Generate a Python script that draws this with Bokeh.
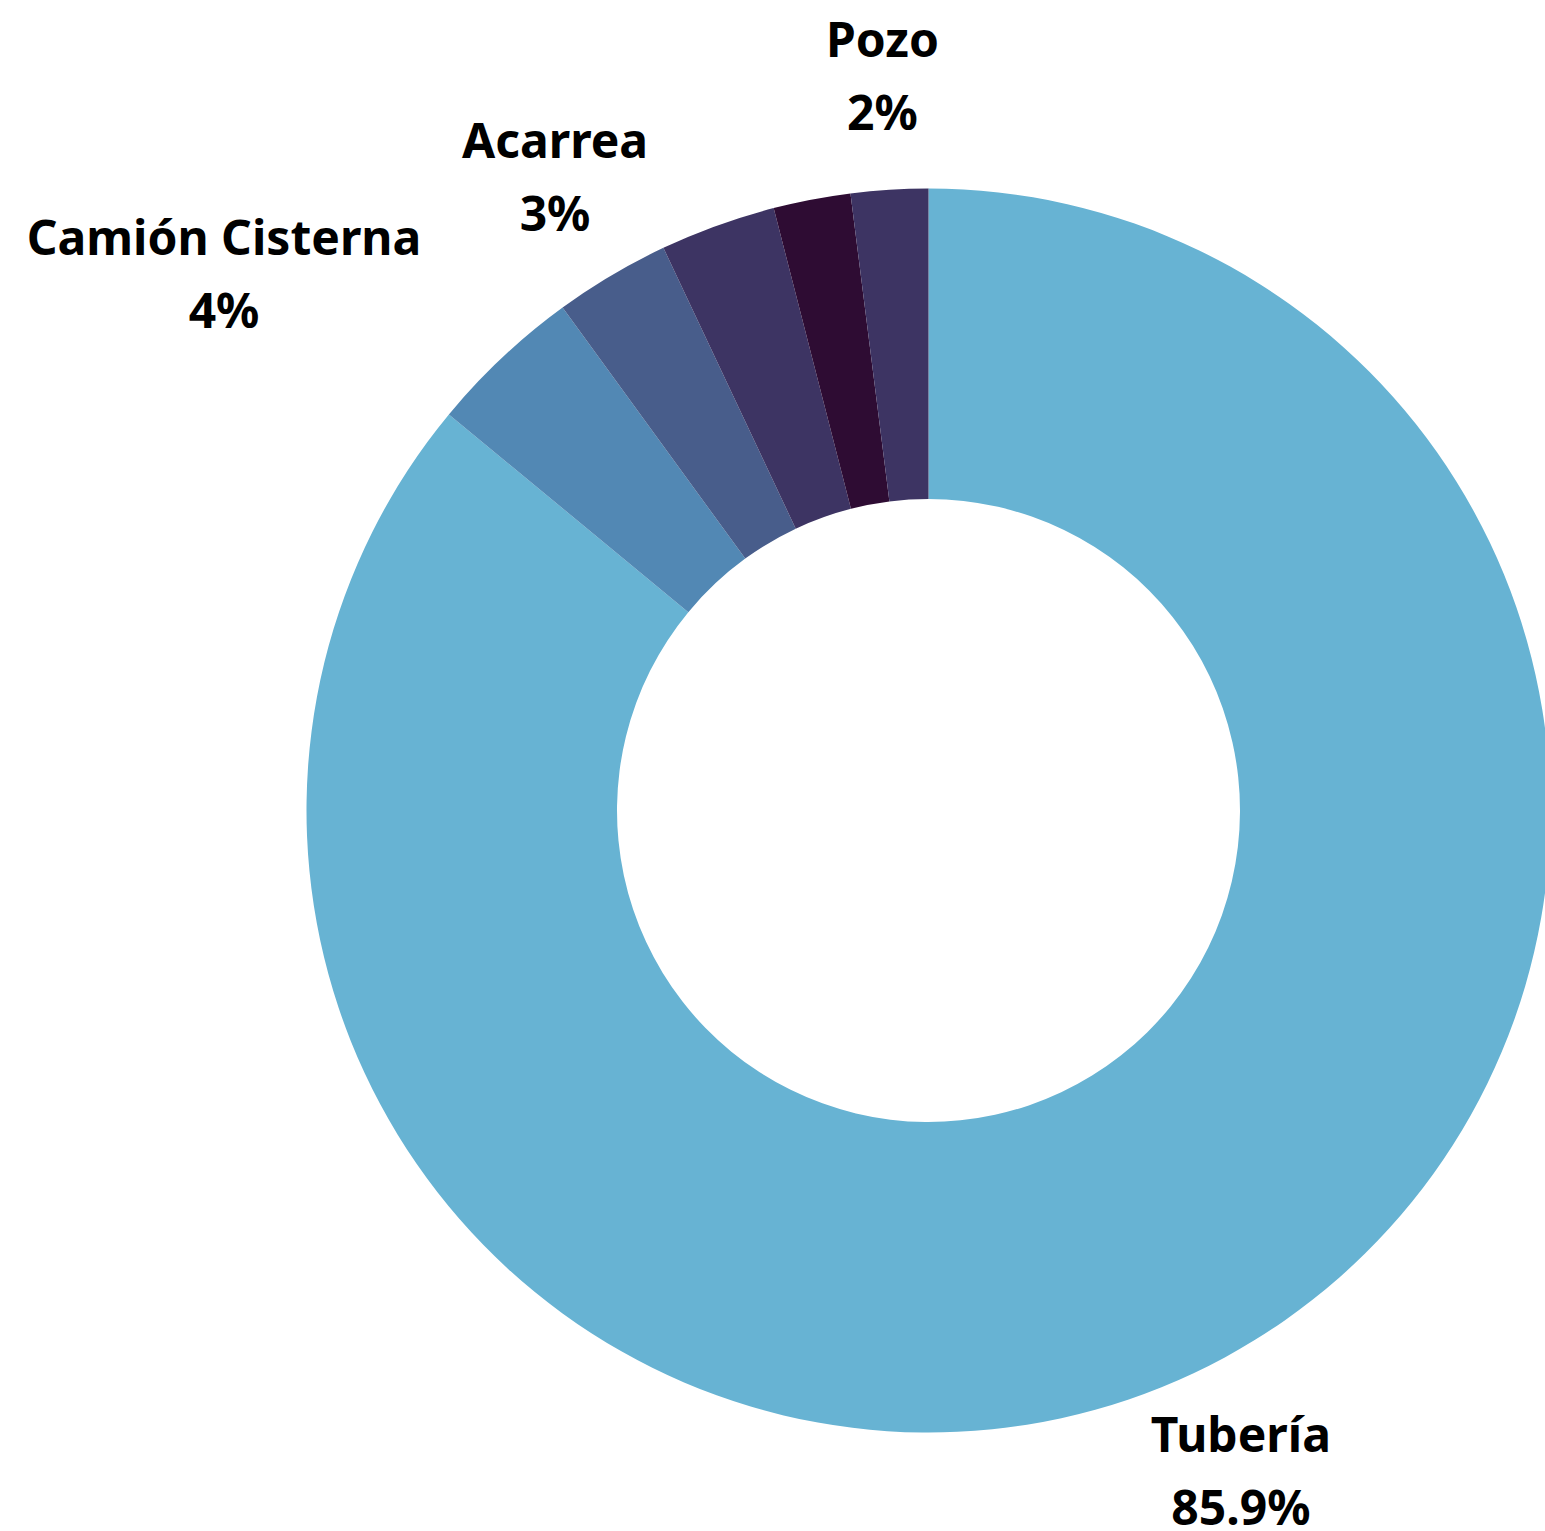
import numpy as np
from bokeh.plotting import figure
from bokeh.models import Range1d, ColumnDataSource
from bokeh.core.properties import value
from bokeh.embed import file_html
from bokeh.resources import INLINE

# Data (clockwise from 12 o'clock)
categories = ["Tubería", "Camión Cisterna", "Acarrea", "", "", "Pozo"]
shares = [85.9, 4, 3, 3, 2, 2]
share_labels = ["85.9%", "4%", "3%", "", "", "2%"]
colors = ["#67b3d3", "#5288b4", "#485d8b", "#3d3463", "#2e0c33", "#3d3463"]

R_OUT, R_IN, R_LAB = 622, 311.5, 733
FONT = "Noto Sans"
FS = 48

vals = np.array(shares, dtype=float)
frac = vals / vals.sum()
f1 = np.cumsum(frac)
f0 = f1 - frac
ang = lambda f: np.pi / 2 - 2 * np.pi * f

src = ColumnDataSource(dict(start=ang(f1), end=ang(f0), color=colors))

p = figure(width=1545, height=1531, output_backend="svg", toolbar_location=None,
           x_range=Range1d(-928, 617), y_range=Range1d(-721, 810),
           min_border=0, outline_line_color=None)
p.axis.visible = False
p.grid.visible = False
p.background_fill_color = "white"
p.border_fill_color = "white"

p.annular_wedge(x=0, y=0, inner_radius=R_IN, outer_radius=R_OUT,
                start_angle="start", end_angle="end", fill_color="color",
                line_color=None, source=src)

# Labels
lx, ly, names, pcts, xo = [], [], [], [], []
mid = ang((f0 + f1) / 2)
for i, name in enumerate(categories):
    if not name:
        continue
    x = R_LAB * np.cos(mid[i])
    y = R_LAB * np.sin(mid[i])
    c = np.cos(mid[i])
    est_w = len(name) * 0.562 * FS
    off = 0.0
    if c < -0.6:
        off = -est_w / 2
    elif c > 0.6:
        off = est_w / 2
    lx.append(x); ly.append(y); names.append(name); pcts.append(share_labels[i]); xo.append(off)

lsrc = ColumnDataSource(dict(x=lx, y=ly, name=names, pct=pcts, xo=xo))
p.text(x="x", y="y", text="name", x_offset="xo", y_offset=-40, source=lsrc,
       text_align="center", text_baseline="alphabetic",
       text_font=value(FONT), text_font_style="bold", text_font_size=f"{FS}px",
       text_color="#000000")
p.text(x="x", y="y", text="pct", x_offset="xo", y_offset=33, source=lsrc,
       text_align="center", text_baseline="alphabetic",
       text_font=value(FONT), text_font_style="bold", text_font_size=f"{FS}px",
       text_color="#000000")

open("out.html", "w").write(file_html(p, INLINE))
